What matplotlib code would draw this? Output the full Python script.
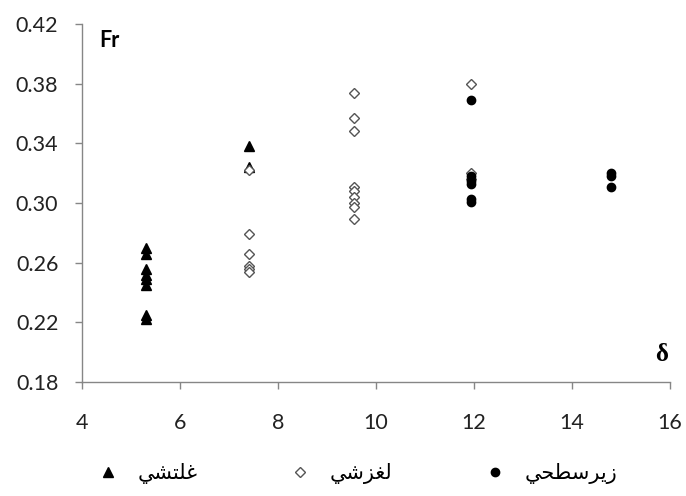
import numpy as np
import matplotlib.pyplot as plt

# delta values for each flow regime
rolling_x = [5.3] * 8 + [7.4] * 2
rolling_fr = [0.270, 0.266, 0.256, 0.252, 0.249, 0.245, 0.225, 0.222,
              0.338, 0.324]

sliding_x = [7.4] * 6 + [9.55] * 9 + [11.95] * 3
sliding_fr = [0.322, 0.279, 0.266, 0.258, 0.256, 0.254,
              0.374, 0.357, 0.348, 0.311, 0.308, 0.304, 0.300, 0.297, 0.289,
              0.380, 0.320, 0.316]

subsurface_x = [11.95] * 6 + [14.8] * 3
subsurface_fr = [0.369, 0.318, 0.315, 0.313, 0.303, 0.301,
                 0.320, 0.318, 0.311]

# Persian labels written in presentation forms, visual order
lbl_rolling = "\uFEF2\uFEB8\uFE98\uFEE0\uFECF"               # غلتشي
lbl_sliding = "\uFEF2\uFEB7\uFEB0\uFED0\uFEDF"               # لغزشي
lbl_subsurface = "\uFEF2\uFEA4\uFEC4\uFEB3\uFEAE\uFEF3\uFEAF"  # زيرسطحي

xticks = [4, 6, 8, 10, 12, 14, 16]
yticks = [0.18, 0.22, 0.26, 0.30, 0.34, 0.38, 0.42]

fig = plt.figure(figsize=(6.86, 4.96), dpi=100)
ax = fig.add_axes([0.1195, 0.2298, 0.857, 0.7218])

ax.plot(rolling_x, rolling_fr, linestyle="none", marker="^", markersize=6.5,
        color="black", label=lbl_rolling)
ax.plot(sliding_x, sliding_fr, linestyle="none", marker="D", markersize=5,
        markerfacecolor="white", markeredgecolor="#555555", markeredgewidth=1.0,
        label=lbl_sliding)
ax.plot(subsurface_x, subsurface_fr, linestyle="none", marker="o", markersize=6,
        color="black", label=lbl_subsurface)

ax.set_xlim(4, 16)
ax.set_ylim(0.18, 0.42)
ax.set_xticks(xticks)
ax.set_yticks(yticks)
ax.set_xticklabels([str(v) for v in xticks])
ax.set_yticklabels(["%.2f" % v for v in yticks])

for side in ["top", "right"]:
    ax.spines[side].set_visible(False)
for side in ["left", "bottom"]:
    ax.spines[side].set_color("#868686")
    ax.spines[side].set_linewidth(1.0)
ax.tick_params(direction="out", length=5, width=1.0, color="#868686",
               labelsize=15.5, labelcolor="#222222")
ax.tick_params(axis="x", pad=17)
ax.tick_params(axis="y", pad=12)
for lab in ax.get_xticklabels() + ax.get_yticklabels():
    lab.set_family("Lato")

fig.text(0.144, 0.918, "Fr", fontsize=15.5, fontweight="bold", family="Lato",
         va="center", ha="left")
fig.text(0.964, 0.285, "\u03b4", fontsize=18, family="Liberation Serif",
         fontweight="bold", va="center", ha="center")

leg = ax.legend(loc="center left", bbox_to_anchor=(0.118, 0.045),
                bbox_transform=fig.transFigure, ncol=3, frameon=False,
                handlelength=0.8, handletextpad=1.0, columnspacing=4.55,
                prop={"family": "DejaVu Sans", "size": 15})

fig.savefig("out.png", dpi=100)
